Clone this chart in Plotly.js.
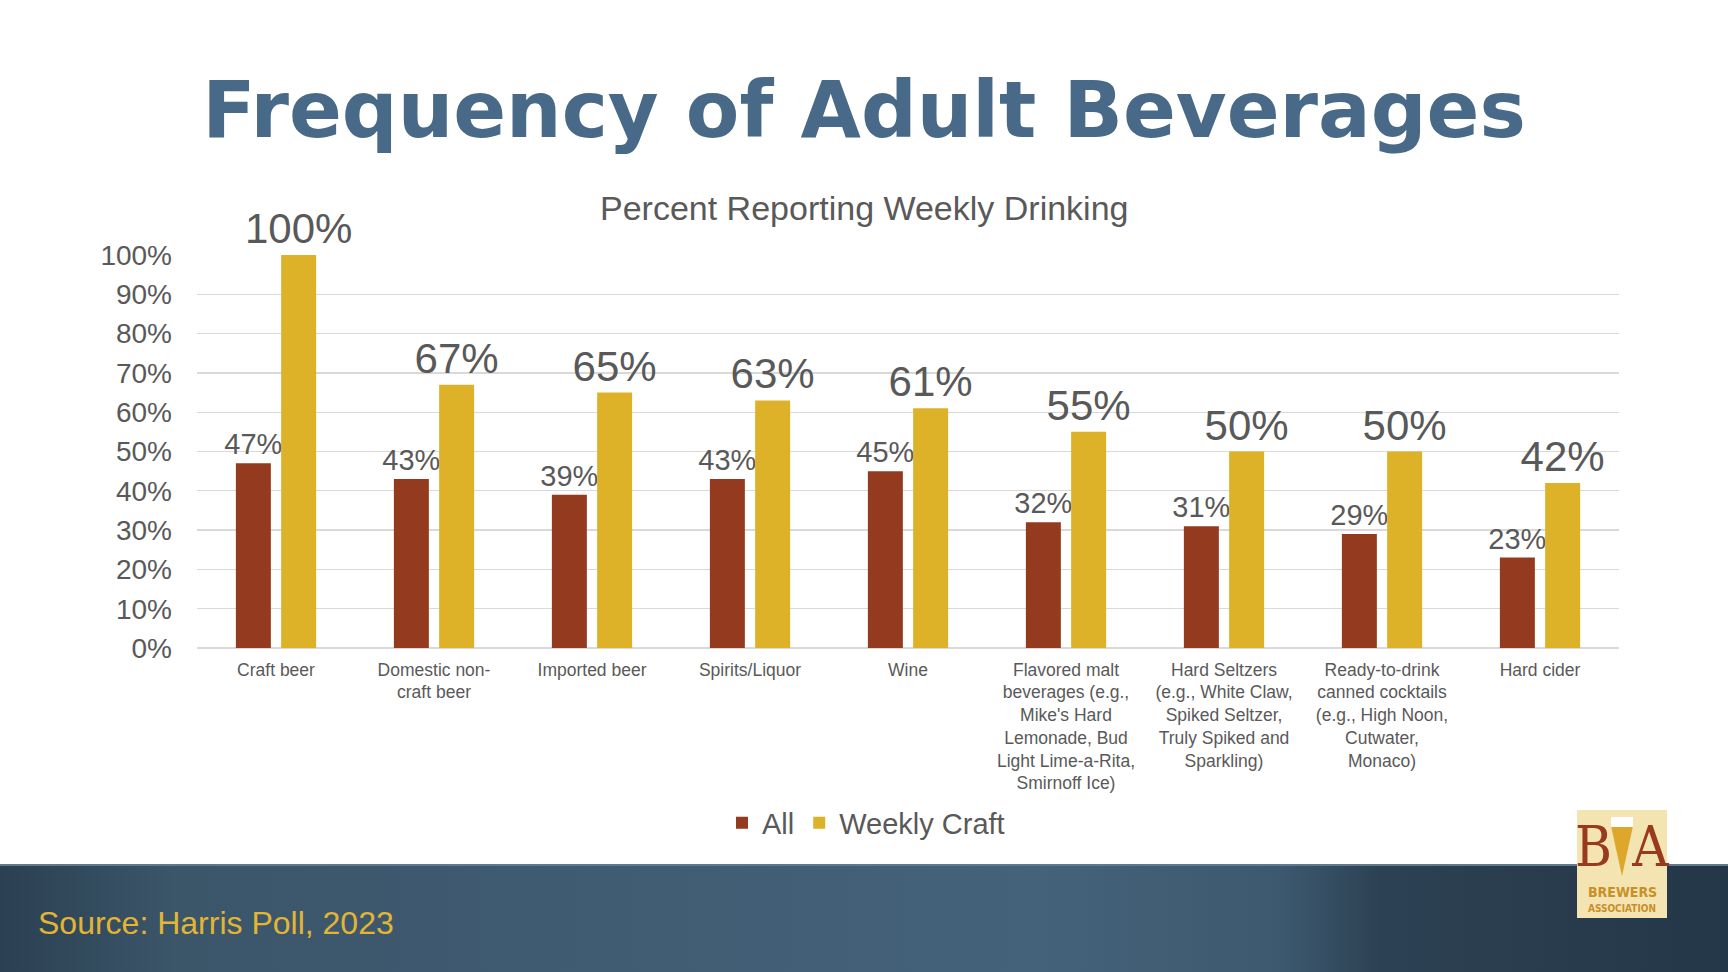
<!DOCTYPE html>
<html>
<head>
<meta charset="utf-8">
<script src="https://cdn.plot.ly/plotly-3.0.1.min.js"></script>
<style>
  html, body { margin: 0; padding: 0; background: #ffffff; }
  #plotly { width: 1728px; height: 972px; }
</style>
</head>
<body>
<div id="plotly"></div>
<script>
// chart data
var categories = [
  'Craft beer',
  'Domestic non-<br>craft beer',
  'Imported beer',
  'Spirits/Liquor',
  'Wine',
  'Flavored malt<br>beverages (e.g.,<br>Mike\'s Hard<br>Lemonade, Bud<br>Light Lime-a-Rita,<br>Smirnoff Ice)',
  'Hard Seltzers<br>(e.g., White Claw,<br>Spiked Seltzer,<br>Truly Spiked and<br>Sparkling)',
  'Ready-to-drink<br>canned cocktails<br>(e.g., High Noon,<br>Cutwater,<br>Monaco)',
  'Hard cider'
];
var allValues    = [47, 43, 39, 43, 45, 32, 31, 29, 23];
var weeklyCraft  = [100, 67, 65, 63, 61, 55, 50, 50, 42];
var yTickValues  = [0, 10, 20, 30, 40, 50, 60, 70, 80, 90, 100];
var yTickLabels  = ['0%', '10%', '20%', '30%', '40%', '50%', '60%', '70%', '80%', '90%', '100%'];

var W = 1728, H = 972;
var M = {l: 197, r: 109, t: 255, b: 324};
var PW = W - M.l - M.r, PH = H - M.t - M.b;

// page pixels -> paper coords
function px(x) { return (x - M.l) / PW; }
function py(y) { return (H - M.b - y) / PH; }

var grey = '#595959';
var sans = 'Liberation Sans, Arial, sans-serif';
var narrow = 'DejaVu Sans Condensed, Liberation Sans Narrow, sans-serif';

function plotChart() {

  var traces = [
    {
      type: 'bar', name: 'All',
      x: categories, y: allValues,
      marker: {color: '#943a1e'},
      text: allValues.map(function (v) { return v + '%'; }),
      textposition: 'outside', constraintext: 'none', cliponaxis: false,
      textfont: {family: sans, size: 29, color: grey},
      hoverinfo: 'skip'
    },
    {
      type: 'bar', name: 'Weekly Craft',
      x: categories, y: weeklyCraft,
      marker: {color: '#deb228'},
      text: weeklyCraft.map(function (v) { return v + '%'; }),
      textposition: 'outside', constraintext: 'none', cliponaxis: false,
      textfont: {family: sans, size: 42, color: grey},
      hoverinfo: 'skip'
    }
  ];

  // footer band gradient
  var band = '<svg xmlns="http://www.w3.org/2000/svg" width="1728" height="108" viewBox="0 0 1728 108" preserveAspectRatio="none">' +
    '<defs><linearGradient id="g" x1="0" y1="0" x2="1" y2="0">' +
    '<stop offset="0" stop-color="#2b4052"/><stop offset="0.1" stop-color="#3b5569"/>' +
    '<stop offset="0.35" stop-color="#405c73"/><stop offset="0.6" stop-color="#44627a"/>' +
    '<stop offset="0.74" stop-color="#3d596f"/><stop offset="0.8" stop-color="#2c4153"/>' +
    '<stop offset="1" stop-color="#243748"/></linearGradient></defs>' +
    '<rect width="1728" height="108" fill="url(#g)"/>' +
    '<rect width="1728" height="2" fill="#5f7a8e"/></svg>';

  var layout = {
    width: W, height: H,
    margin: M,
    paper_bgcolor: '#ffffff', plot_bgcolor: '#ffffff',
    font: {family: sans, color: grey},
    title: {
      text: 'Frequency of Adult Beverages',
      font: {family: 'DejaVu Sans, sans-serif', size: 78, weight: 'bold', color: '#486a88'},
      xref: 'container', x: 0.5, xanchor: 'center',
      yref: 'container', y: 1 - 110 / H, yanchor: 'middle'
    },
    barmode: 'group',
    bargap: 0.427,
    bargroupgap: 0.227,
    showlegend: true,
    legend: {
      orientation: 'h', x: px(866), xanchor: 'center', y: py(823), yanchor: 'middle',
      font: {family: sans, size: 29, color: grey},
      itemwidth: 30, traceorder: 'normal'
    },
    xaxis: {
      type: 'category',
      showgrid: false, showline: false, ticks: '',
      tickfont: {family: sans, size: 17.5, color: grey},
      ticklabelstandoff: 9,
      tickangle: 0,
      automargin: false
    },
    yaxis: {
      range: [0, 100],
      tickvals: yTickValues, ticktext: yTickLabels,
      showgrid: true, gridcolor: '#d9d9d9', gridwidth: 1.3,
      zeroline: true, zerolinecolor: '#d9d9d9', zerolinewidth: 1.5,
      showline: false, ticks: '',
      tickfont: {family: sans, size: 28, color: grey},
      ticklabelstandoff: 24,
      automargin: false
    },
    images: [{
      source: 'data:image/svg+xml;utf8,' + encodeURIComponent(band),
      xref: 'paper', yref: 'paper',
      x: px(0), y: py(864), sizex: W / PW, sizey: 108 / PH,
      xanchor: 'left', yanchor: 'top', sizing: 'stretch', layer: 'below'
    }],
    shapes: [
      // logo tile
      {type: 'rect', xref: 'paper', yref: 'paper', x0: px(1577), x1: px(1667), y0: py(810), y1: py(918),
       fillcolor: '#f4e4b2', line: {width: 0}},
      // beer glass between the letters
      {type: 'path', xref: 'paper', yref: 'paper',
       path: 'M ' + px(1611) + ' ' + py(826) + ' L ' + px(1633) + ' ' + py(826) + ' L ' + px(1622) + ' ' + py(876) + ' Z',
       fillcolor: '#dca72a', line: {width: 0}},
      {type: 'rect', xref: 'paper', yref: 'paper', x0: px(1611), x1: px(1633), y0: py(827), y1: py(817),
       fillcolor: '#ffffff', line: {width: 0}}
    ],
    annotations: [
      {text: 'Percent Reporting Weekly Drinking', xref: 'paper', yref: 'paper',
       x: px(864), y: py(208), xanchor: 'center', yanchor: 'middle', showarrow: false,
       font: {family: sans, size: 34, color: grey}},
      {text: 'Source: Harris Poll, 2023', xref: 'paper', yref: 'paper',
       x: px(36), y: py(923), xanchor: 'left', yanchor: 'middle', showarrow: false,
       font: {family: sans, size: 32, color: '#e2b534'}},
      {text: 'B\u2009\u2009A', xref: 'paper', yref: 'paper', x: px(1622), y: py(846), xanchor: 'center', yanchor: 'middle',
       showarrow: false, borderpad: 0,
       font: {family: 'DejaVu Serif Condensed, Liberation Serif, serif', size: 56, color: '#9a3a1c'}},
      {text: 'BREWERS', xref: 'paper', yref: 'paper', x: px(1622), y: py(892), xanchor: 'center', yanchor: 'middle',
       showarrow: false, borderpad: 0, font: {family: narrow, size: 14, weight: 'bold', color: '#c98f28'}},
      {text: 'ASSOCIATION', xref: 'paper', yref: 'paper', x: px(1622), y: py(908), xanchor: 'center', yanchor: 'middle',
       showarrow: false, borderpad: 0, font: {family: narrow, size: 10, weight: 'bold', color: '#c98f28'}}
    ]
  };

  Plotly.newPlot('plotly', traces, layout, {displayModeBar: false, staticPlot: true});
}

plotChart();
</script>
</body>
</html>
